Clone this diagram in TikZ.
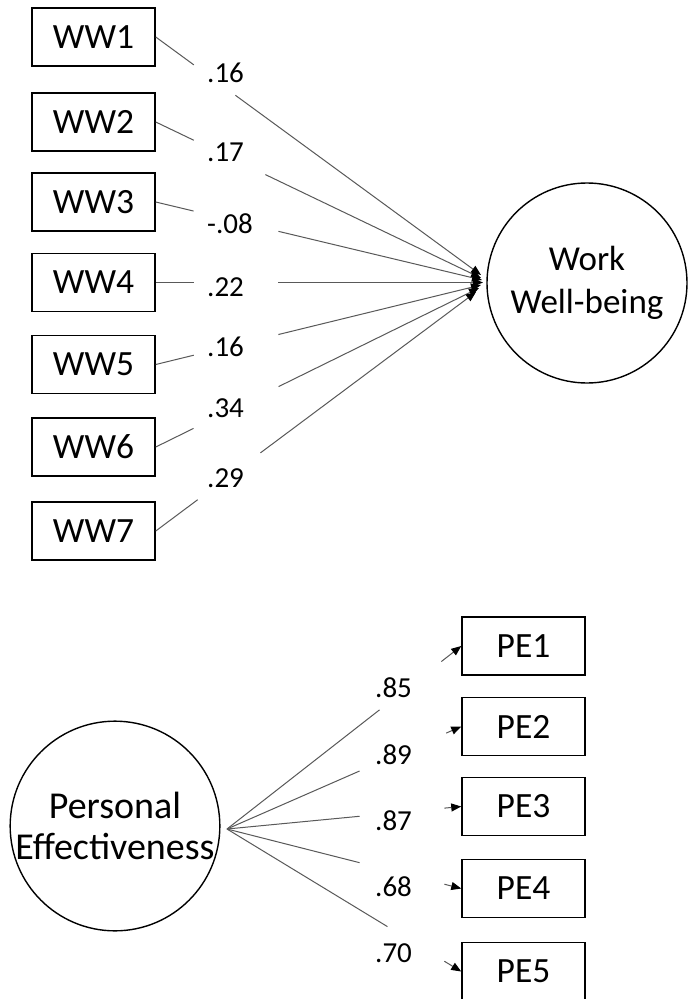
\documentclass[tikz,border=0pt]{standalone}
\usepackage{fontspec}
\setmainfont{Carlito}
\usetikzlibrary{calc,arrows.meta}
\begin{document}
\begin{tikzpicture}[x=1pt,y=-1pt,
  obs/.style={draw,line width=1.5pt,minimum width=123pt,minimum height=58pt,inner sep=0pt,font=\fontsize{35.5}{42}\selectfont},
  lat/.style={draw,circle,line width=1.4pt,inner sep=0pt,align=center},
  ln/.style={draw=black!65,line width=1pt},
  head/.style={-{Triangle[length=10pt,width=8pt,color=black]}},
  coef/.style={anchor=west,inner sep=0pt,font=\fontsize{29}{33}\selectfont}]
\fill[white] (0,0) rectangle (688,999);
\useasboundingbox (0,0) rectangle (688,999);
% Work Well-being
\node[lat,minimum size=200pt,font=\fontsize{35}{43}\selectfont] (wwb) at (587,283) {Work\\Well-being};
\foreach \i/\cy/\ex/\ey/\ta/\tb/\lab/\ly in {
  1/37/481/275/0.117/0.245/.16/73,
  2/122/481/278/0.117/0.337/.17/152,
  3/202/482/280/0.116/0.376/-.08/224,
  4/282.5/483/282.5/0.116/0.375/.22/287,
  5/364.5/481/285/0.117/0.377/.16/347,
  6/447/479/288/0.117/0.380/.34/408,
  7/531/476/292/0.131/0.327/.29/478}{
  \node[obs] (ww\i) at (93.5,\cy) {WW\i};
  \coordinate (e\i) at (\ex,\ey);
  \draw[ln] (ww\i.east) -- ($(ww\i.east)!\ta!(e\i)$);
  \draw[ln,head] ($(ww\i.east)!\tb!(e\i)$) -- (e\i);
  \node[coef] (cw\i) at (207,\ly) {\lab};
}
% Personal Effectiveness
\node[lat,minimum size=204pt,font=\fontsize{38}{41}\selectfont] (pe) at (115,826) {Personal\\Effectiveness};
\coordinate (src) at (227,829);
\foreach \i/\cy/\ta/\tb/\lab/\ly in {
  1/646/0.651/0.915/.85/688,
  2/726.5/0.566/0.936/.89/755,
  3/806.5/0.566/0.928/.87/821,
  4/888.5/0.566/0.928/.68/887,
  5/971.5/0.685/0.928/.70/953}{
  \node[obs] (pe\i) at (523.5,\cy) {PE\i};
  \draw[ln] (src) -- ($(src)!\ta!(pe\i.west)$);
  \draw[ln,head] ($(src)!\tb!(pe\i.west)$) -- (pe\i.west);
  \node[coef] (cp\i) at (375,\ly) {\lab};
}
\end{tikzpicture}
\end{document}
